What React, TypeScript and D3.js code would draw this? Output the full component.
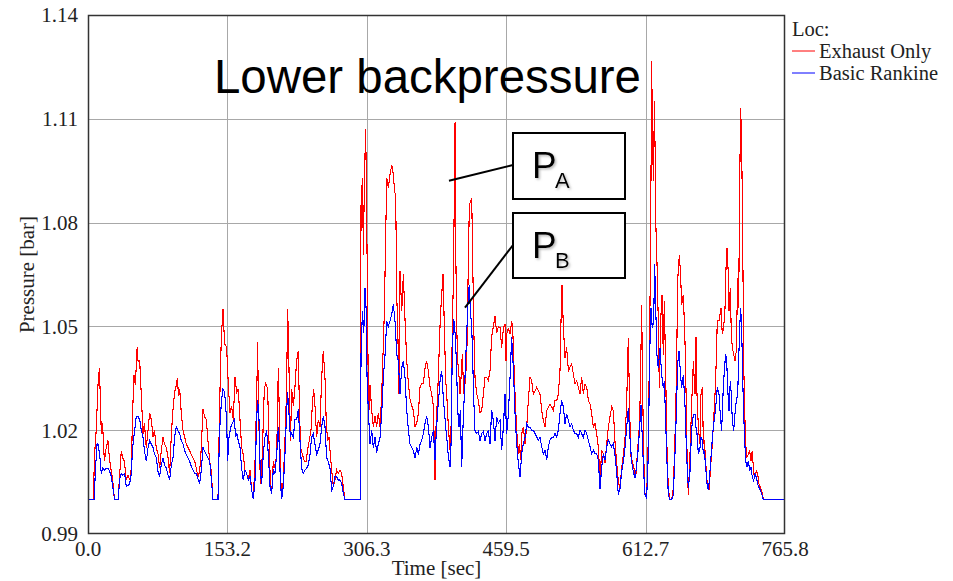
import React from "react";
import * as d3 from "d3";

const xTicks = [0, 153.2, 306.3, 459.5, 612.7, 765.8];
const yTicks = [0.99, 1.02, 1.05, 1.08, 1.11, 1.14];
const seriesNames = ["Exhaust Only", "Basic Rankine"];
const seriesColors = ["#ff0000", "#0000ff"];

// [time s, pressure bar]
const exhaustOnly: [number, number][] = [[0,1.0],[6,1.0],[7,1.012],[9,1.02],[11,1.033],[12.5,1.038],[13.5,1.03],[14.6,1.019],[16,1.022],[18,1.011],[20,1.015],[22,1.017],[23.5,1.012],[25.6,1.008],[27,1.006],[29,1.0],[33,1.0],[35,1.008],[36.6,1.014],[38,1.012],[40,1.011],[42,1.0056],[44,1.007],[46,1.0056],[47.6,1.009],[49,1.025],[50.5,1.036],[52,1.033],[54,1.044],[55,1.04],[56.8,1.04],[58.6,1.03],[60.4,1.019],[62,1.022],[64,1.015],[66,1.02],[67.7,1.025],[69.6,1.023],[71.4,1.018],[73,1.02],[75,1.015],[77,1.013],[78.7,1.009],[80.5,1.014],[82.4,1.018],[84,1.016],[86,1.015],[88,1.012],[89.7,1.0075],[91.6,1.019],[93.4,1.026],[95.2,1.031],[97,1.033],[98.1,1.035],[99.5,1.03],[100.7,1.032],[102.5,1.025],[104.4,1.02],[106.2,1.018],[108,1.016],[110,1.015],[111.7,1.014],[113.5,1.013],[115.4,1.012],[117.2,1.011],[119,1.009],[120.8,1.0066],[122.7,1.008],[124.5,1.015],[126.3,1.026],[128,1.024],[130,1.023],[131.8,1.017],[133.7,1.011],[135.5,1.008],[137.3,1.0],[142.8,1.0],[144.6,1.027],[146.5,1.047],[148.3,1.055],[150.1,1.045],[152.3,1.044],[154.2,1.033],[156,1.025],[157.8,1.027],[159.7,1.023],[161.5,1.0355],[163.3,1.031],[165.1,1.032],[167,1.023],[168.8,1.015],[170.6,1.013],[172.5,1.0085],[174.3,1.0075],[176.1,1.0056],[178,1.0085],[179.8,1.0027],[181.6,1.0],[183.5,1.011],[185.3,1.029],[186.4,1.0456],[187.1,1.029],[189,1.0085],[190,1.0046],[191.5,1.013],[193.7,1.032],[195.2,1.0336],[197.4,1.032],[198.8,1.017],[200.3,1.0056],[201.8,1.0017],[203.6,1.011],[205.4,1.009],[207.3,1.013],[209.1,1.038],[210.2,1.025],[211.3,1.009],[212.8,1.0],[214.6,1.0056],[216.4,1.017],[218.2,1.032],[219.3,1.055],[220.4,1.046],[221.5,1.025],[222.6,1.017],[223.7,1.032],[225.6,1.027],[227.4,1.0326],[229.2,1.04],[231.1,1.043],[232.2,1.027],[233.6,1.015],[235.5,1.013],[237.7,1.011],[239.5,1.011],[241.3,1.0143],[243.1,1.017],[245,1.02],[246.4,1.027],[247.9,1.032],[249.4,1.027],[251.2,1.018],[253,1.023],[254.9,1.021],[256.7,1.035],[258.5,1.043],[260.4,1.035],[261.8,1.022],[263.3,1.017],[264.8,1.018],[266.2,1.013],[267.7,1.0085],[269.5,1.0037],[271.3,1.0056],[273.2,1.0085],[275,1.0075],[276.8,1.0085],[278.7,1.0075],[280.5,1.0037],[282.3,1.0],[299,1.0],[300,1.085],[301.5,1.093],[302.6,1.0707],[303.7,1.093],[305.1,1.107],[306.2,1.083],[307.3,1.05],[308,1.0305],[308.8,1.0257],[309.9,1.033],[311.7,1.0257],[313.5,1.021],[315.4,1.024],[317.2,1.021],[319,1.025],[320.9,1.021],[322.7,1.0305],[324.5,1.045],[325.6,1.0544],[327.1,1.0765],[328.2,1.093],[330,1.09],[331.9,1.094],[333.7,1.0966],[335.5,1.094],[336.6,1.09],[338.1,1.087],[339.2,1.059],[340.3,1.05],[341.7,1.0305],[342.8,1.066],[344.7,1.0545],[346.5,1.065],[348.3,1.052],[350.2,1.04],[352,1.0335],[353.8,1.029],[355.7,1.027],[357.5,1.0257],[359.3,1.021],[361.2,1.022],[363,1.025],[364.8,1.0325],[366.6,1.0335],[368.5,1.0335],[370.3,1.038],[372.1,1.04],[374,1.037],[375.8,1.0325],[377.6,1.0305],[379.5,1.027],[381.3,1.0055],[382.4,1.021],[384.2,1.0305],[385.7,1.042],[387.1,1.0525],[388.6,1.059],[390.1,1.065],[391.5,1.05],[393,1.0345],[394.1,1.0305],[395.9,1.021],[397.8,1.0143],[398.9,1.021],[400.3,1.05],[401.4,1.0625],[402.5,1.088],[403.3,1.109],[404,1.0736],[405.1,1.05],[406.2,1.04],[407.7,1.0353],[408.8,1.0305],[409.9,1.0353],[411.3,1.042],[412.8,1.0305],[414.2,1.0335],[416.1,1.04],[417.9,1.0688],[419,1.085],[420.1,1.086],[421.6,1.087],[422.7,1.0688],[423.8,1.05],[425.2,1.0353],[427.1,1.0305],[428.9,1.0286],[430.7,1.025],[432.6,1.0257],[434.4,1.0305],[436.2,1.0353],[438,1.0353],[439.9,1.0343],[441.7,1.0372],[443.5,1.047],[445.4,1.05],[447.2,1.053],[449,1.048],[450.9,1.05],[452.7,1.0496],[454.5,1.0439],[456.4,1.0496],[458.2,1.0506],[459.3,1.04],[460,1.0477],[461.9,1.0496],[463.7,1.0477],[465.5,1.0516],[466.6,1.0496],[468.1,1.0382],[469.2,1.0305],[470.3,1.0238],[471.7,1.0171],[472.8,1.0132],[473.9,1.0161],[475.4,1.0113],[476.5,1.019],[478.3,1.0209],[480.2,1.0161],[482,1.0209],[483.8,1.0286],[485.7,1.0353],[487.5,1.0343],[489.3,1.0305],[491.2,1.0314],[493,1.0324],[494.8,1.0314],[496.6,1.0305],[498.5,1.0257],[500.3,1.0228],[502.1,1.0209],[504,1.0257],[505.8,1.0267],[507.6,1.0276],[509.5,1.0267],[511.3,1.0257],[513.1,1.0286],[515,1.0286],[516.8,1.0305],[518.6,1.0372],[519.7,1.0516],[520.8,1.0621],[522.3,1.0496],[524.1,1.041],[525.9,1.0439],[527.8,1.0372],[529.6,1.0382],[531.4,1.0391],[533.3,1.0362],[535.1,1.0334],[536.9,1.0343],[538.8,1.0324],[540.6,1.0305],[542.4,1.0353],[544.2,1.0305],[546.1,1.0334],[547.9,1.0324],[549.7,1.0286],[551.6,1.0276],[553.4,1.0247],[555.2,1.0209],[557.1,1.0219],[558.9,1.019],[560.7,1.0152],[562.6,1.006],[564.4,1.0142],[566.2,1.0132],[568.1,1.0104],[569.9,1.0161],[571.7,1.0209],[573.5,1.0238],[575.4,1.0267],[577.2,1.0257],[579,1.0167],[580.8,1.0109],[582.7,1.0051],[584.5,1.0032],[586.3,1.009],[588.2,1.0129],[590,1.0177],[591.8,1.0273],[593.6,1.0466],[594.7,1.0322],[596.2,1.0129],[598,1.0109],[599.9,1.009],[601.7,1.0061],[603.5,1.0129],[605.4,1.0196],[606.8,1.0302],[608.3,1.0563],[609.4,1.0322],[610.5,1.0129],[612,1.0013],[613.8,1.0003],[615.6,1.0177],[617.1,1.0466],[618.2,1.0765],[619.3,1.1267],[620.4,1.0997],[621.5,1.092],[622.2,1.1151],[623.3,1.0977],[624,1.0785],[625.1,1.0688],[626.6,1.0514],[627.7,1.0322],[629.2,1.0514],[630.6,1.0592],[632.1,1.0418],[633.2,1.0572],[634.7,1.037],[635.8,1.0177],[637.6,1.0032],[639.4,1.0],[641.3,1.0],[643.1,1.0032],[644.9,1.0177],[646.7,1.037],[647.8,1.063],[649.7,1.0707],[651.1,1.065],[652.2,1.0563],[654.1,1.0592],[655.9,1.0457],[657,1.0322],[658.5,1.008],[659.6,1.0013],[661.4,1.0129],[663.2,1.0273],[665.1,1.0399],[666.9,1.0304],[668,1.0468],[669.1,1.0304],[670.6,1.0208],[672.4,1.016],[673.5,1.0304],[675,1.0324],[676.1,1.016],[677.2,1.017],[678.6,1.0112],[680.1,1.0054],[681.5,1.0035],[682.6,1.0026],[683.7,1.0083],[685.2,1.0131],[687,1.0208],[688.9,1.0304],[690.3,1.04],[691.4,1.0516],[693.3,1.0516],[694.4,1.0535],[695.5,1.0554],[696.9,1.0477],[698.4,1.0496],[699.9,1.0554],[701,1.067],[702.1,1.0727],[703.2,1.067],[704.3,1.0545],[705.7,1.0612],[706.8,1.0477],[707.9,1.0439],[709.4,1.042],[710.8,1.04],[712.3,1.0429],[713.8,1.0641],[714.9,1.0554],[716,1.091],[717.1,1.1131],[718.2,1.1025],[719.3,1.0766],[720.4,1.04],[721.5,1.0256],[722.6,1.016],[724,1.0122],[725.5,1.0131],[727,1.0141],[728.4,1.0112],[729.9,1.0141],[731.4,1.0074],[732.8,1.0064],[734.3,1.0083],[735.7,1.0074],[737.2,1.0045],[738.7,1.0035],[740.1,1.0026],[742,1.0],[765.8,1.0]];

const basicRankine: [number, number][] = [[0,1.0],[7,1.0],[8,1.008],[10,1.016],[11,1.016],[12.8,1.013],[14.6,1.0075],[16,1.009],[18.3,1.0085],[20,1.009],[22,1.009],[24,1.008],[25.6,1.0066],[27,1.004],[29.3,1.0],[33,1.0],[35,1.006],[36.6,1.0075],[38,1.007],[40.3,1.0075],[42,1.0037],[44,1.004],[45.8,1.0046],[47.6,1.0075],[49,1.015],[51.3,1.02],[53,1.024],[54.9,1.024],[56.8,1.023],[58.6,1.02],[60.4,1.018],[62,1.014],[64.1,1.011],[66,1.015],[67.7,1.017],[69.6,1.016],[71.4,1.015],[73.2,1.013],[75.1,1.012],[77,1.008],[78.7,1.0066],[80.5,1.01],[82.4,1.012],[84,1.01],[86.1,1.009],[88,1.007],[89.7,1.0056],[91.6,1.01],[93.4,1.012],[95.2,1.018],[97,1.021],[98.5,1.02],[100.7,1.019],[102.5,1.017],[104.4,1.016],[106.2,1.014],[108,1.013],[109.9,1.012],[111.7,1.011],[113.5,1.0095],[115.4,1.0085],[117.2,1.0075],[119,1.0075],[120.8,1.006],[122.7,1.0046],[124.5,1.0085],[126.3,1.015],[128,1.014],[130,1.013],[131.8,1.012],[133.7,1.011],[135.5,1.006],[137.3,1.0],[142.8,1.0],[144.6,1.02],[146.5,1.028],[148.3,1.032],[150.1,1.031],[152.3,1.023],[153.4,1.011],[154.9,1.018],[157,1.021],[158.5,1.022],[160.8,1.023],[162.2,1.018],[163.7,1.019],[165.1,1.017],[167,1.015],[168.8,1.009],[170.6,1.0056],[172.5,1.0085],[174.3,1.0075],[176.1,1.0056],[178,1.0066],[179.8,1.0027],[181.6,1.0],[183.5,1.0056],[185.3,1.023],[186.4,1.0288],[187.9,1.023],[189.3,1.0075],[190.8,1.0046],[192.6,1.013],[194.4,1.018],[196.3,1.02],[198.1,1.013],[200,1.0037],[201.8,1.0017],[203.6,1.0085],[205.4,1.0075],[207.3,1.013],[209.1,1.021],[210.2,1.015],[211.3,1.0056],[212.8,1.0],[214.6,1.0037],[216.4,1.013],[218.2,1.025],[219.3,1.031],[220.8,1.025],[222.3,1.018],[223.7,1.019],[225.6,1.018],[227.4,1.023],[229.2,1.023],[231.1,1.026],[232.9,1.017],[234.7,1.009],[236.6,1.0075],[238.4,1.0085],[240.2,1.009],[242,1.01],[243.9,1.013],[245.7,1.018],[247.5,1.019],[249.4,1.016],[251.2,1.013],[253,1.0143],[254.9,1.016],[256.7,1.021],[258.5,1.024],[260.4,1.021],[262.2,1.012],[264,1.011],[265.9,1.009],[267.7,1.0027],[269.5,1.0037],[271.3,1.0066],[273.2,1.0066],[275,1.0056],[276.8,1.0056],[278.7,1.0046],[280.5,1.0017],[282.3,1.0],[299,1.0],[300,1.042],[301.5,1.0544],[303,1.048],[304.4,1.061],[305.5,1.0554],[306.6,1.0353],[308,1.0257],[309.9,1.016],[311.7,1.02],[313.5,1.015],[315.4,1.018],[317.2,1.0135],[319,1.016],[320.9,1.018],[322.7,1.0247],[324.5,1.0353],[326.4,1.042],[328.2,1.0516],[330,1.05],[331.9,1.0516],[333.7,1.0535],[335.5,1.0564],[337.3,1.0516],[339.2,1.042],[341,1.04],[342.8,1.0305],[344.7,1.038],[346.5,1.04],[348.3,1.0353],[350.2,1.0257],[352,1.02],[353.8,1.016],[355.7,1.015],[357.5,1.014],[359.3,1.012],[361.2,1.015],[363,1.013],[364.8,1.016],[366.6,1.017],[368.5,1.019],[370.3,1.022],[372.1,1.024],[374,1.021],[375.8,1.015],[377.6,1.018],[379.5,1.02],[381.3,1.0113],[382.4,1.018],[384.2,1.0257],[385.7,1.0305],[387.1,1.0353],[388.6,1.0372],[390.1,1.0305],[391.5,1.0257],[393,1.021],[394.8,1.016],[395.9,1.0123],[397.8,1.0094],[398.9,1.016],[400.3,1.044],[401.9,1.052],[403.3,1.048],[404.8,1.04],[406.2,1.0257],[407.7,1.021],[409.1,1.0257],[410.6,1.0094],[412,1.021],[413.5,1.0305],[414.9,1.04],[416.4,1.05],[417.9,1.059],[418.9,1.062],[420.1,1.0545],[421.6,1.05],[422.7,1.04],[423.8,1.029],[425.2,1.0197],[427.1,1.019],[428.9,1.0197],[430.7,1.017],[432.6,1.019],[434.4,1.0197],[436.2,1.017],[438,1.019],[439.9,1.0197],[441.7,1.016],[443.5,1.0257],[445.4,1.0228],[447.2,1.017],[449,1.0238],[450.9,1.022],[452.7,1.0228],[454.5,1.0142],[456.4,1.0209],[458.2,1.0305],[460,1.019],[461.9,1.0247],[463.7,1.0353],[465.5,1.0468],[467.3,1.0382],[469.2,1.0247],[471,1.0161],[472.8,1.0104],[474.7,1.0066],[476.5,1.0132],[478.3,1.0161],[480.2,1.018],[482,1.0219],[483.8,1.0209],[485.7,1.0209],[487.5,1.02],[489.3,1.02],[491.2,1.019],[493,1.018],[494.8,1.0171],[496.6,1.018],[498.5,1.0152],[500.3,1.0132],[502.1,1.0142],[504,1.0115],[505.8,1.0152],[507.6,1.0171],[509.5,1.018],[511.3,1.018],[513.1,1.019],[515,1.018],[516.8,1.02],[518.6,1.0247],[520.4,1.0286],[522.3,1.0267],[524.1,1.0219],[525.9,1.0247],[527.8,1.0228],[529.6,1.0209],[531.4,1.0219],[533.3,1.02],[535.1,1.019],[536.9,1.019],[538.8,1.018],[540.6,1.02],[542.4,1.019],[544.2,1.018],[546.1,1.02],[547.9,1.019],[549.7,1.0171],[551.6,1.0152],[553.4,1.0132],[555.2,1.0142],[557.1,1.0132],[558.9,1.0132],[560.7,1.0113],[562.6,1.003],[564.4,1.0094],[566.2,1.0132],[568.1,1.0113],[569.9,1.0152],[571.7,1.0171],[573.5,1.0161],[575.4,1.0152],[577.2,1.0161],[579,1.0129],[580.8,1.008],[582.7,1.0013],[584.5,1.0032],[586.3,1.008],[588.2,1.0109],[590,1.0148],[591.8,1.0206],[593.6,1.0264],[595.5,1.0177],[597.3,1.0109],[599.1,1.008],[601,1.0061],[602.8,1.0099],[604.6,1.0148],[606.5,1.0225],[607.6,1.0273],[609,1.0177],[610.5,1.008],[612,1.0013],[613.8,1.0003],[615.6,1.0129],[617.1,1.0418],[618.5,1.0553],[620,1.0495],[621.5,1.0514],[622.6,1.0679],[623.7,1.0563],[625.1,1.0418],[626.6,1.038],[628.4,1.0438],[630.3,1.036],[632.1,1.0322],[633.2,1.0341],[634.7,1.0225],[635.8,1.0129],[637.6,1.0013],[639.4,1.0],[641.3,1.0],[643.1,1.0013],[644.9,1.0129],[646.7,1.0273],[647.8,1.0389],[649.3,1.0428],[650.8,1.037],[652.2,1.0322],[654.1,1.036],[655.9,1.0273],[657.7,1.0129],[659.6,1.0032],[661.4,1.008],[663.2,1.0206],[665.1,1.0244],[666.9,1.0247],[668,1.0208],[669.1,1.019],[670.6,1.0131],[672.4,1.015],[673.5,1.018],[675,1.017],[676.1,1.0131],[677.2,1.0141],[678.6,1.0093],[680.1,1.0045],[681.5,1.0026],[682.6,1.0054],[683.7,1.0093],[685.2,1.015],[687,1.0208],[688.9,1.0247],[690.3,1.0285],[691.4,1.0324],[693.3,1.0304],[694.4,1.0256],[696.2,1.0198],[697.7,1.0304],[699.1,1.0372],[700.6,1.042],[701.7,1.04],[703.2,1.0304],[704.3,1.0256],[705.7,1.0343],[706.8,1.0304],[707.9,1.0227],[709.4,1.0198],[710.8,1.0247],[712.3,1.0285],[713.8,1.0304],[714.9,1.04],[716,1.0496],[717.1,1.0554],[718.2,1.0496],[719.3,1.0352],[720.4,1.0247],[721.5,1.017],[722.6,1.0112],[724,1.0093],[725.5,1.0112],[727,1.0083],[728.4,1.0093],[729.9,1.0064],[731.4,1.0054],[732.8,1.0074],[734.3,1.0064],[735.7,1.0045],[737.2,1.0035],[738.7,1.0026],[740.1,1.0016],[742,1.0],[765.8,1.0]];

// annotation anchor points [time, pressure]
const pointerA: [number, number] = [396.6, 1.0921];
const pointerB: [number, number] = [414.2, 1.0554];

const W = 953, H = 581;
const M = { left: 88, top: 15, right: 785, bottom: 534 };

export default function App() {
  const x = d3.scaleLinear().domain([0, 765.8]).range([M.left, M.right]);
  const y = d3.scaleLinear().domain([0.99, 1.14]).range([M.bottom, M.top]);
  const line = d3.line<[number, number]>().x(d => x(d[0])).y(d => y(d[1]));
  const serif = "'Liberation Serif', 'Times New Roman', serif";
  const sans = "'Liberation Sans', Arial, sans-serif";
  const txt = "#222";
  const fs = 21;
  const series = [exhaustOnly, basicRankine];
  return (
    <svg width={W} height={H} style={{ position: "absolute", left: 0, top: 0, background: "#fff" }}>
      <defs>
        <clipPath id="plot">
          <rect x={M.left} y={M.top} width={M.right - M.left} height={M.bottom - M.top} />
        </clipPath>
        <filter id="sh" x="-20%" y="-20%" width="150%" height="150%">
          <feDropShadow dx="1.5" dy="1.5" stdDeviation="1" floodColor="#888" floodOpacity="0.6" />
        </filter>
      </defs>
      <rect width={W} height={H} fill="#fff" />
      {/* gridlines */}
      {xTicks.slice(1, -1).map(t => (
        <line key={"gx" + t} x1={Math.round(x(t)) + 0.5} x2={Math.round(x(t)) + 0.5} y1={M.top} y2={M.bottom} stroke="#a8a8a8" strokeWidth={1} />
      ))}
      {yTicks.slice(1, -1).map(t => (
        <line key={"gy" + t} x1={M.left} x2={M.right} y1={Math.round(y(t)) + 0.5} y2={Math.round(y(t)) + 0.5} stroke="#a8a8a8" strokeWidth={1} />
      ))}
      {/* data */}
      <g clipPath="url(#plot)">
        {series.map((s, i) => (
          <path key={i} d={line(s) || ""} fill="none" stroke={seriesColors[i]} strokeWidth={1.1} strokeLinejoin="miter" shapeRendering="crispEdges" />
        ))}
      </g>
      {/* frame */}
      <rect x={M.left + 0.5} y={M.top + 0.5} width={M.right - M.left - 1} height={M.bottom - M.top - 1} fill="none" stroke="#333" strokeWidth={1.5} />
      {/* y tick labels */}
      {yTicks.map(t => (
        <text key={"yl" + t} x={78} y={y(t)} dy="0.35em" textAnchor="end" fontFamily={serif} fontSize={fs} fill={txt}>
          {t.toFixed(2)}
        </text>
      ))}
      {/* x tick labels */}
      {xTicks.map(t => (
        <text key={"xl" + t} x={x(t)} y={556} textAnchor="middle" fontFamily={serif} fontSize={fs} fill={txt}>
          {t.toFixed(1)}
        </text>
      ))}
      <text x={(M.left + M.right) / 2} y={575} textAnchor="middle" fontFamily={serif} fontSize={fs} fill={txt}>Time [sec]</text>
      <text transform={`translate(34, ${(M.top + M.bottom) / 2}) rotate(-90)`} textAnchor="middle" fontFamily={serif} fontSize={fs} fill={txt}>Pressure [bar]</text>
      {/* legend */}
      <text x={792} y={36} fontFamily={serif} fontSize={20.5} fill={txt}>Loc:</text>
      {seriesNames.map((n, i) => (
        <g key={n}>
          <line x1={792} x2={815} y1={51 + i * 22} y2={51 + i * 22} stroke={seriesColors[i]} strokeWidth={1} />
          <text x={819} y={58 + i * 22} fontFamily={serif} fontSize={20.5} fill={txt}>{n}</text>
        </g>
      ))}
      {/* title annotation */}
      <text x={214} y={93} fontFamily={sans} fontSize={48} textLength={427} lengthAdjust="spacingAndGlyphs" fill="#000">Lower backpressure</text>
      {/* P_A */}
      <line x1={x(pointerA[0])} y1={y(pointerA[1])} x2={513} y2={165} stroke="#000" strokeWidth={2} />
      <rect x={513} y={133} width={112} height={66} fill="#fff" stroke="#000" strokeWidth={2} />
      <g filter="url(#sh)">
        <text x={532} y={178} fontFamily={sans} fontSize={37} fill="#000">P</text>
        <text x={555} y={188} fontFamily={sans} fontSize={22} fill="#000">A</text>
      </g>
      {/* P_B */}
      <line x1={x(pointerB[0])} y1={y(pointerB[1])} x2={513} y2={245} stroke="#000" strokeWidth={2} />
      <rect x={513} y={213} width={112} height={65} fill="#fff" stroke="#000" strokeWidth={2} />
      <g filter="url(#sh)">
        <text x={532} y={258} fontFamily={sans} fontSize={37} fill="#000">P</text>
        <text x={555} y={268} fontFamily={sans} fontSize={22} fill="#000">B</text>
      </g>
    </svg>
  );
}
